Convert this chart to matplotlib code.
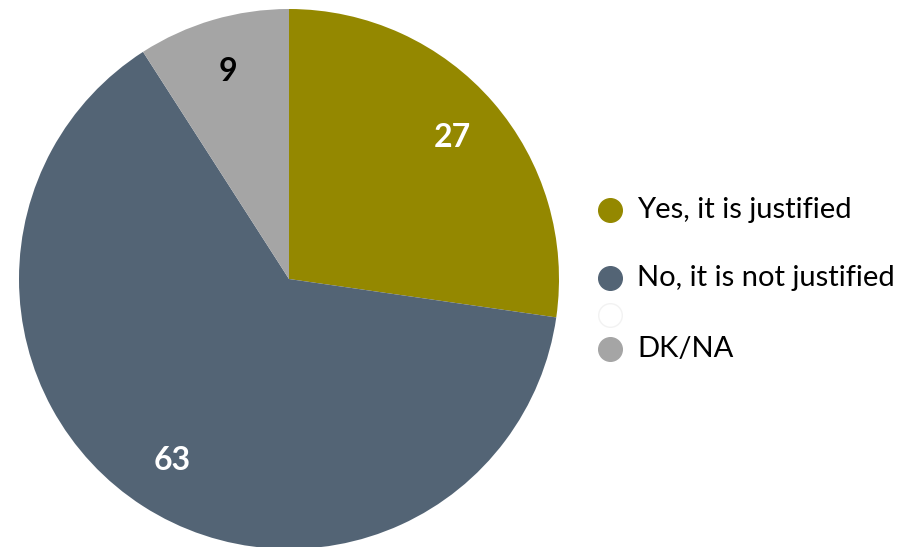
import matplotlib
matplotlib.use("Agg")
import matplotlib.pyplot as plt
from matplotlib.lines import Line2D

categories = ["Yes, it is justified", "No, it is not justified", "", "DK/NA"]
values = [27, 63, 0, 9]
colors = ["#948800", "#536475", "#FFFFFF", "#A5A5A5"]
label_colors = ["white", "white", "white", "black"]

plt.rcParams['font.family'] = ['Lato', 'DejaVu Sans']

fig = plt.figure(figsize=(9.21, 5.47), dpi=100)
ax = fig.add_axes([19/921, -2/547, 540/921, 540/547])
ax.axis('off')

nz = [i for i, v in enumerate(values) if v > 0]
wedges, texts = ax.pie([values[i] for i in nz], colors=[colors[i] for i in nz],
                       startangle=90, counterclock=False, radius=1,
                       labels=[str(values[i]) for i in nz], labeldistance=0.8,
                       wedgeprops=dict(linewidth=0))
ax.set_xlim(-1, 1)
ax.set_ylim(-1, 1)
ax.set_aspect('equal')
for t, i in zip(texts, nz):
    t.set_color(label_colors[i])
    t.set_fontsize(23)
    t.set_fontweight('bold')
    t.set_ha('center')
    t.set_va('center')

legend_y = [210, 278, 315, 349]
for cat, col, y in zip(categories, colors, legend_y):
    yf = 1 - y / 547
    fig.add_artist(Line2D([610/921], [yf], marker='o', markersize=17,
                          markerfacecolor=col,
                          markeredgecolor='#F2F2F2' if col == '#FFFFFF' else col,
                          markeredgewidth=1, linestyle='none',
                          transform=fig.transFigure))
    fig.text(637/921, yf, cat, fontsize=21, va='center', ha='left', color='black')

fig.savefig("out.png", dpi=100)
